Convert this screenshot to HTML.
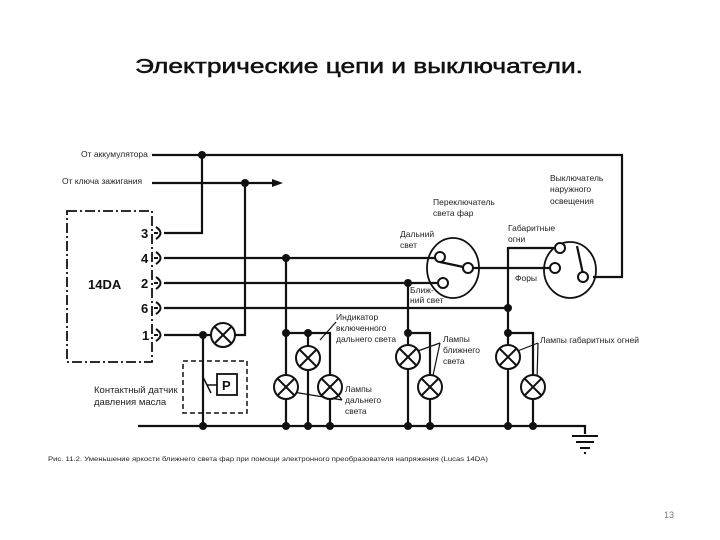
<!DOCTYPE html>
<html><head><meta charset="utf-8"><style>
html,body{margin:0;padding:0;background:#fff;width:720px;height:540px;overflow:hidden}
svg{display:block}
text{font-family:"Liberation Sans","DejaVu Sans",sans-serif}
</style></head><body>
<svg width="720" height="540" viewBox="0 0 720 540" xmlns="http://www.w3.org/2000/svg">
<text x="135" y="73" font-size="20" font-family="DejaVu Sans, sans-serif" textLength="448" lengthAdjust="spacingAndGlyphs" fill="#111" stroke="#111" stroke-width="0.5">Электрические цепи и выключатели.</text>
<g stroke="#111" stroke-width="2.2" fill="none">
<polyline points="152,155 622,155 622,277 593,277"/>
<line x1="152" y1="183" x2="276" y2="183"/>
<rect x="67" y="211" width="85" height="151" stroke-dasharray="10,3,2,3" stroke-width="1.8"/>
<polyline points="164,233 202,233 202,155"/>
<line x1="164" y1="258" x2="440" y2="258"/>
<line x1="164" y1="283" x2="443" y2="283"/>
<polyline points="164,308 508,308"/>
<line x1="164" y1="335" x2="211" y2="335"/>
<polyline points="235,335 245,335 245,183"/>
<line x1="203" y1="335" x2="203" y2="426"/>
<rect x="183" y="361" width="64" height="52" stroke-dasharray="5,3" stroke-width="1.5"/>
<rect x="217" y="374" width="20" height="21" stroke-width="1.8"/>
<line x1="203" y1="377" x2="211" y2="393" stroke-width="1.5"/>
<line x1="207" y1="385" x2="217" y2="385" stroke-width="1.5"/>
<polyline points="138,426 585,426 585,434"/>
<line x1="286" y1="258" x2="286" y2="426"/>
<polyline points="286,333 330,333 330,426"/>
<line x1="308" y1="333" x2="308" y2="426"/>
<line x1="408" y1="283" x2="408" y2="426"/>
<polyline points="408,333 430,333 430,426"/>
<polyline points="560,248 508,248 508,426"/>
<polyline points="508,333 533,333 533,426"/>
<line x1="468" y1="268" x2="555" y2="268"/>
<ellipse cx="453" cy="268" rx="26" ry="30" stroke-width="1.8"/>
<ellipse cx="570" cy="270" rx="26" ry="28" stroke-width="1.8"/>
<line x1="440" y1="262" x2="468" y2="268"/>
<line x1="583" y1="274" x2="577" y2="246"/>
<g stroke-width="1.2">
<line x1="320" y1="340" x2="336" y2="322"/>
<line x1="293" y1="392" x2="342" y2="400"/>
<line x1="336" y1="392" x2="342" y2="400"/>
<line x1="415" y1="352" x2="440" y2="343"/>
<line x1="432" y1="380" x2="440" y2="343"/>
<line x1="515" y1="352" x2="538" y2="343"/>
<line x1="537" y1="380" x2="538" y2="343"/>
</g>
</g>
<polygon points="283,183 272,179 272,187" fill="#111"/>
<g stroke="#111" stroke-width="2" fill="none">
<path d="M156,227 q9,6 0,12 M154,233 h4"/><path d="M156,252 q9,6 0,12 M154,258 h4"/>
<path d="M156,277 q9,6 0,12 M154,283 h4"/><path d="M156,302 q9,6 0,12 M154,308 h4"/>
<path d="M156,329 q9,6 0,12 M154,335 h4"/>
</g>
<g font-size="13" font-weight="bold" fill="#111" font-family="Liberation Sans, sans-serif">
<text x="141" y="238">3</text><text x="141" y="263">4</text><text x="141" y="288">2</text><text x="141" y="313">6</text><text x="142" y="340">1</text>
<text x="88" y="289" font-size="13">14DA</text>
<text x="222" y="390" font-size="13">P</text>
</g>
<g stroke="#111" stroke-width="2" fill="#fff">
<g transform="translate(223,335)"><circle r="12"/><path d="M-8,-8 L8,8 M8,-8 L-8,8"/></g>
<g transform="translate(308,358)"><circle r="12"/><path d="M-8,-8 L8,8 M8,-8 L-8,8"/></g>
<g transform="translate(286,387)"><circle r="12"/><path d="M-8,-8 L8,8 M8,-8 L-8,8"/></g>
<g transform="translate(330,387)"><circle r="12"/><path d="M-8,-8 L8,8 M8,-8 L-8,8"/></g>
<g transform="translate(408,357)"><circle r="12"/><path d="M-8,-8 L8,8 M8,-8 L-8,8"/></g>
<g transform="translate(430,387)"><circle r="12"/><path d="M-8,-8 L8,8 M8,-8 L-8,8"/></g>
<g transform="translate(508,357)"><circle r="12"/><path d="M-8,-8 L8,8 M8,-8 L-8,8"/></g>
<g transform="translate(533,387)"><circle r="12"/><path d="M-8,-8 L8,8 M8,-8 L-8,8"/></g>
<circle cx="440" cy="257" r="5"/><circle cx="468" cy="268" r="5"/><circle cx="443" cy="283" r="5"/>
<circle cx="560" cy="248" r="5"/><circle cx="555" cy="268" r="5"/><circle cx="583" cy="277" r="5"/>
</g>
<g fill="#111">
<circle cx="202" cy="155" r="4"/><circle cx="245" cy="183" r="4"/><circle cx="286" cy="258" r="4"/>
<circle cx="203" cy="335" r="4"/><circle cx="286" cy="333" r="4"/><circle cx="308" cy="333" r="4"/>
<circle cx="408" cy="283" r="4"/><circle cx="408" cy="333" r="4"/><circle cx="508" cy="308" r="4"/><circle cx="508" cy="333" r="4"/>
<circle cx="203" cy="426" r="4"/><circle cx="286" cy="426" r="4"/><circle cx="308" cy="426" r="4"/><circle cx="330" cy="426" r="4"/>
<circle cx="408" cy="426" r="4"/><circle cx="430" cy="426" r="4"/><circle cx="508" cy="426" r="4"/><circle cx="533" cy="426" r="4"/>
</g>
<g stroke="#111" stroke-width="2"><line x1="572" y1="436" x2="598" y2="436"/><line x1="576" y1="442" x2="594" y2="442"/><line x1="580" y1="448" x2="590" y2="448"/><line x1="584" y1="453" x2="586" y2="453"/></g>
<g font-size="8.5" fill="#222">
<text x="81" y="157">От аккумулятора</text>
<text x="62" y="184">От ключа зажигания</text>
<text x="433" y="205">Переключатель</text><text x="433" y="216">света фар</text>
<text x="400" y="237">Дальний</text><text x="400" y="248">свет</text>
<text x="410" y="293">Ближ-</text><text x="410" y="303">ний свет</text>
<text x="508" y="231">Габаритные</text><text x="508" y="242">огни</text>
<text x="550" y="181">Выключатель</text><text x="550" y="192">наружного</text><text x="550" y="204">освещения</text>
<text x="515" y="281">Форы</text>
<text x="336" y="320">Индикатор</text><text x="336" y="331">включенного</text><text x="336" y="342">дальнего света</text>
<text x="443" y="342">Лампы</text><text x="443" y="353">ближнего</text><text x="443" y="364">света</text>
<text x="540" y="343">Лампы габаритных огней</text>
<text x="345" y="392">Лампы</text><text x="345" y="403">дальнего</text><text x="345" y="414">света</text>
<text x="94" y="393" font-size="9.5">Контактный датчик</text><text x="94" y="405" font-size="9.5">давления масла</text>
</g>
<text x="48" y="461" font-size="6" fill="#222" textLength="440" lengthAdjust="spacingAndGlyphs">Рис. 11.2. Уменьшение яркости ближнего света фар при помощи электронного преобразователя напряжения (Lucas 14DA)</text>
<text x="664" y="518" font-size="9" fill="#777">13</text>
</svg>
</body></html>
